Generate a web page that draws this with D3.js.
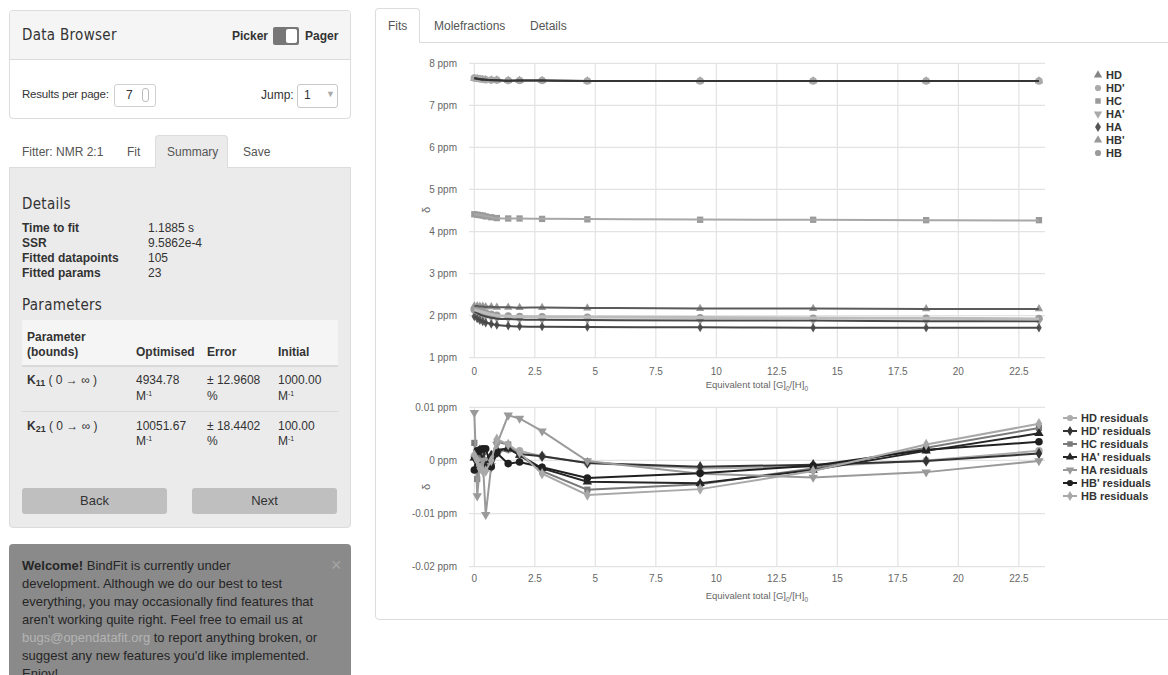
<!DOCTYPE html>
<html>
<head>
<meta charset="utf-8">
<script src="https://cdn.jsdelivr.net/npm/d3@7"></script>
<style>
  html, body { margin: 0; padding: 0; }
  body { width: 1168px; height: 675px; overflow: hidden; background: #fff; position: relative;
         font-family: "Liberation Sans", Arial, Helvetica, sans-serif; color: #333; }
  .abs { position: absolute; white-space: nowrap; }
  .cond { font-family: "DejaVu Sans Condensed", "Liberation Sans Narrow", "Roboto", sans-serif; letter-spacing: 0.3px; color: #333; }
  .panel { position: absolute; border: 1px solid #dcdcdc; border-radius: 4px; box-sizing: border-box; }
  .b { font-weight: bold; }
  .t12 { font-size: 12px; }
  .t13 { font-size: 13px; }
  sub.k { font-size: 9px; vertical-align: -2px; }
  sup.m { font-size: 7px; vertical-align: 4px; }
  .btn { position: absolute; background: #bfbfbf; border-radius: 3px; font-size: 13px; text-align: center; line-height: 26px; height: 26px; color: #333; }
  svg { position: absolute; left: 0; top: 0; }
</style>
</head>
<body>

<!-- Data browser box -->
<div class="panel" style="left:9px;top:10px;width:342px;height:109px;background:#fff;"></div>
<div class="abs" style="left:10px;top:11px;width:340px;height:48px;background:#f5f5f5;border-bottom:1px solid #dcdcdc;border-radius:4px 4px 0 0;"></div>
<div class="abs cond" style="left:22px;top:26px;font-size:15px;">Data Browser</div>
<div class="abs b t12" style="left:232px;top:29px;">Picker</div>
<div class="abs" style="left:273px;top:27px;width:26px;height:18px;background:#777;border-radius:2px;"></div>
<div class="abs" style="left:286px;top:29px;width:11px;height:14px;background:#fff;border-radius:2px;"></div>
<div class="abs b t12" style="left:305px;top:29px;">Pager</div>

<div class="abs" style="left:22px;top:88px;font-size:11.5px;letter-spacing:-0.2px;">Results per page:</div>
<div class="abs" style="left:114px;top:84px;width:40px;height:21px;border:1px solid #d0d0d0;border-radius:3px;"></div>
<div class="abs t12" style="left:126px;top:88px;">7</div>
<div class="abs" style="left:142px;top:88px;width:5px;height:12px;border:1px solid #bbb;border-radius:3px;"></div>
<div class="abs t12" style="left:261px;top:88px;">Jump:</div>
<div class="abs" style="left:297px;top:84px;width:39px;height:22px;border:1px solid #c8c8c8;border-radius:3px;"></div>
<div class="abs t12" style="left:304px;top:88px;">1</div>
<div class="abs" style="left:326px;top:89px;font-size:9px;color:#aaa;">&#9660;</div>

<!-- Fitter tabs -->
<div class="abs t12" style="left:22px;top:145px;color:#555;">Fitter: NMR 2:1</div>
<div class="abs t12" style="left:127px;top:145px;color:#555;">Fit</div>
<div class="abs" style="left:155px;top:135px;width:73px;height:34px;background:#ebebeb;border:1px solid #dcdcdc;border-bottom:none;border-radius:4px 4px 0 0;box-sizing:border-box;"></div>
<div class="abs t12" style="left:167px;top:145px;color:#555;">Summary</div>
<div class="abs t12" style="left:243px;top:145px;color:#555;">Save</div>

<!-- Summary panel -->
<div class="panel" style="left:9px;top:167px;width:342px;height:361px;background:#ebebeb;border-radius:0 0 4px 4px;"></div>
<div class="abs" style="left:156px;top:167px;width:71px;height:2px;background:#ebebeb;"></div>
<div class="abs cond" style="left:22px;top:195px;font-size:15px;">Details</div>
<div class="abs b t12" style="left:22px;top:221px;">Time to fit</div>
<div class="abs b t12" style="left:22px;top:236px;">SSR</div>
<div class="abs b t12" style="left:22px;top:251px;">Fitted datapoints</div>
<div class="abs b t12" style="left:22px;top:266px;">Fitted params</div>
<div class="abs t12" style="left:148px;top:221px;">1.1885 s</div>
<div class="abs t12" style="left:148px;top:236px;">9.5862e-4</div>
<div class="abs t12" style="left:148px;top:251px;">105</div>
<div class="abs t12" style="left:148px;top:266px;">23</div>
<div class="abs cond" style="left:22px;top:296px;font-size:15px;">Parameters</div>

<div class="abs" style="left:22px;top:320px;width:316px;height:45px;background:#f5f5f5;border-bottom:2px solid #dadada;"></div>
<div class="abs b t12" style="left:27px;top:330px;">Parameter</div>
<div class="abs b t12" style="left:27px;top:345px;">(bounds)</div>
<div class="abs b t12" style="left:136px;top:345px;">Optimised</div>
<div class="abs b t12" style="left:207px;top:345px;">Error</div>
<div class="abs b t12" style="left:278px;top:345px;">Initial</div>

<div class="abs t12" style="left:27px;top:373px;"><b>K<sub class="k">11</sub></b> ( 0 &#8594; &#8734; )</div>
<div class="abs t12" style="left:136px;top:373px;">4934.78</div>
<div class="abs t12" style="left:136px;top:389px;">M<sup class="m">-1</sup></div>
<div class="abs t12" style="left:207px;top:373px;">&#177; 12.9608</div>
<div class="abs t12" style="left:207px;top:389px;">%</div>
<div class="abs t12" style="left:278px;top:373px;">1000.00</div>
<div class="abs t12" style="left:278px;top:389px;">M<sup class="m">-1</sup></div>
<div class="abs" style="left:22px;top:411px;width:316px;height:1px;background:#d8d8d8;"></div>
<div class="abs t12" style="left:27px;top:419px;"><b>K<sub class="k">21</sub></b> ( 0 &#8594; &#8734; )</div>
<div class="abs t12" style="left:136px;top:419px;">10051.67</div>
<div class="abs t12" style="left:136px;top:434px;">M<sup class="m">-1</sup></div>
<div class="abs t12" style="left:207px;top:419px;">&#177; 18.4402</div>
<div class="abs t12" style="left:207px;top:434px;">%</div>
<div class="abs t12" style="left:278px;top:419px;">100.00</div>
<div class="abs t12" style="left:278px;top:434px;">M<sup class="m">-1</sup></div>

<div class="btn" style="left:22px;top:488px;width:145px;">Back</div>
<div class="btn" style="left:192px;top:488px;width:145px;">Next</div>

<!-- Welcome alert -->
<div class="abs" style="left:9px;top:544px;width:342px;height:150px;background:#8a8a8a;border-radius:4px;"></div>
<div class="abs" style="left:331px;top:555px;font-size:18px;color:#a6a6a6;">&#215;</div>
<div class="abs" style="left:22px;top:557px;font-size:13px;line-height:18px;color:#262626;">
<b>Welcome!</b> BindFit is currently under<br>
development. Although we do our best to test<br>
everything, you may occasionally find features that<br>
aren't working quite right. Feel free to email us at<br>
<span style="color:#b4b4b4;">bugs@opendatafit.org</span> to report anything broken, or<br>
suggest any new features you'd like implemented.<br>
Enjoy!
</div>

<!-- Right panel tabs -->
<div class="abs" style="left:375px;top:42px;width:800px;height:578px;border:1px solid #dcdcdc;border-radius:0 0 4px 4px;box-sizing:border-box;"></div>
<div class="abs" style="left:375px;top:8px;width:45px;height:35px;background:#fff;border:1px solid #dcdcdc;border-bottom:none;border-radius:4px 4px 0 0;box-sizing:border-box;"></div>
<div class="abs t12" style="left:388px;top:19px;color:#555;">Fits</div>
<div class="abs t12" style="left:434px;top:19px;color:#555;">Molefractions</div>
<div class="abs t12" style="left:530px;top:19px;color:#555;">Details</div>

<svg id="chart" width="1168" height="675"></svg>

<script>
// Titration points: equivalents of guest added
const xEquiv = [0, 0.12, 0.23, 0.35, 0.47, 0.70, 0.93, 1.40, 1.87, 2.80, 4.67, 9.33, 14.00, 18.67, 23.33];

// Observed chemical shifts (ppm)
const obsHD  = [7.64, 7.63, 7.62, 7.61, 7.61, 7.60, 7.60, 7.59, 7.59, 7.59, 7.58, 7.58, 7.58, 7.58, 7.58];
const obsHD2 = [7.65, 7.64, 7.63, 7.62, 7.61, 7.60, 7.60, 7.59, 7.59, 7.59, 7.58, 7.58, 7.58, 7.58, 7.58];
const obsHC  = [4.41, 4.40, 4.39, 4.38, 4.36, 4.34, 4.32, 4.31, 4.31, 4.30, 4.29, 4.28, 4.28, 4.27, 4.27];
const obsHA2 = [2.10, 2.06, 2.03, 2.00, 1.98, 1.95, 1.93, 1.92, 1.91, 1.90, 1.89, 1.88, 1.88, 1.87, 1.87];
const obsHA  = [1.98, 1.93, 1.89, 1.86, 1.83, 1.80, 1.78, 1.76, 1.75, 1.74, 1.73, 1.72, 1.71, 1.71, 1.71];
const obsHB2 = [2.23, 2.23, 2.22, 2.22, 2.21, 2.21, 2.20, 2.20, 2.19, 2.19, 2.18, 2.17, 2.17, 2.16, 2.16];
const obsHB  = [2.14, 2.12, 2.10, 2.08, 2.06, 2.03, 2.01, 1.99, 1.98, 1.97, 1.96, 1.95, 1.94, 1.94, 1.93];

// Fit residuals (ppm)
const resHD  = [0.0008, 0.0005, 0.0003, 0.0002, 0.0000, 0.0005, 0.0015, 0.0020, 0.0018, 0.0008, -0.0005, -0.0015, -0.0012, 0.0000, 0.0018];
const resHD2 = [0.0005, 0.0010, 0.0015, 0.0012, -0.0010, -0.0012, 0.0015, 0.0025, 0.0012, 0.0008, -0.0005, -0.0012, -0.0008, -0.0001, 0.0013];
const resHC  = [0.0033, -0.0035, 0.0010, -0.0010, -0.0015, 0.0005, 0.0035, 0.0030, 0.0010, -0.0020, -0.0055, -0.0045, -0.0015, 0.0024, 0.0061];
const resHA2 = [0.0005, 0.0015, 0.0020, 0.0000, -0.0010, 0.0010, 0.0020, 0.0022, 0.0010, -0.0015, -0.0040, -0.0043, -0.0018, 0.0018, 0.0051];
const resHA  = [0.0090, -0.0067, -0.0010, 0.0000, -0.0102, -0.0010, 0.0030, 0.0085, 0.0079, 0.0055, -0.0001, -0.0025, -0.0032, -0.0022, -0.0001];
const resHB2 = [-0.0018, 0.0018, 0.0020, 0.0022, 0.0022, -0.0012, 0.0014, -0.0006, -0.0003, -0.0013, -0.0033, -0.0024, -0.0010, 0.0020, 0.0035];
const resHB  = [0.0010, 0.0000, -0.0015, -0.0020, -0.0020, 0.0000, 0.0040, 0.0030, 0.0015, -0.0025, -0.0065, -0.0054, -0.0020, 0.0030, 0.0069];

const seriesNames = ["HD", "HD'", "HC", "HA'", "HA", "HB'", "HB"];
const observed  = [obsHD, obsHD2, obsHC, obsHA2, obsHA, obsHB2, obsHB];
const residuals = [resHD, resHD2, resHC, resHA2, resHA, resHB2, resHB];

// Axis ticks
const xTicks = [0, 2.5, 5, 7.5, 10, 12.5, 15, 17.5, 20, 22.5];
const fitTicks = [1, 2, 3, 4, 5, 6, 7, 8];
const resTicks = [-0.02, -0.01, 0, 0.01];
const resTickLabels = ["-0.02 ppm", "-0.01 ppm", "0 ppm", "0.01 ppm"];

// Styling per series
const markerShape  = ["triangle", "circle", "square", "triangleDown", "diamond", "triangle", "circle"];
const markerColor  = ["#858585", "#aaaaaa", "#9a9a9a", "#aaaaaa", "#555555", "#999999", "#9b9b9b"];
const markerSize   = { circle: 45, square: 40, triangle: 30, triangleDown: 30, diamond: 26 };
const fitLineColor = ["#353535", "#353535", "#a8a8a8", "#474747", "#474747", "#5a5a5a", "#bcbcbc"];
const fitLineWidth = [2, 2, 2, 2, 2, 2, 3];
const resColor     = ["#acacac", "#333333", "#7a7a7a", "#262626", "#9a9a9a", "#202020", "#a8a8a8"];
const resShape     = ["circle", "diamond", "square", "triangle", "triangleDown", "circle", "diamond"];

const svg = d3.select("#chart");
const font = "Liberation Sans, Arial, sans-serif";

function symbolPath(shape, size) {
  const t = { circle: d3.symbolCircle, square: d3.symbolSquare, diamond: d3.symbolDiamond,
              triangle: d3.symbolTriangle, triangleDown: d3.symbolTriangle }[shape];
  return d3.symbol().type(t).size(size)();
}
function drawSymbol(g, shape, size, x, y, color) {
  g.append("path").attr("d", symbolPath(shape, size))
    .attr("transform", `translate(${x},${y})` + (shape === "triangleDown" ? " rotate(180)" : ""))
    .attr("fill", color);
}

const x = d3.scaleLinear().domain([-0.22, 23.58]).range([469, 1045]);

function frame(y, ticks, labels, yTitle, xLabelY, xTitleY) {
  const g = svg.append("g");
  const [y0, y1] = y.range();
  // grid
  g.selectAll(null).data(xTicks).join("line")
    .attr("x1", d => x(d)).attr("x2", d => x(d)).attr("y1", y1).attr("y2", y0)
    .attr("stroke", "#e3e3e3").attr("stroke-width", 1.2);
  g.selectAll(null).data(ticks).join("line")
    .attr("x1", 469).attr("x2", 1045).attr("y1", d => y(d)).attr("y2", d => y(d))
    .attr("stroke", "#e3e3e3").attr("stroke-width", 1.2);
  // tick labels
  g.selectAll(null).data(ticks).join("text")
    .attr("x", 457).attr("y", d => y(d)).attr("dy", "0.35em").attr("text-anchor", "end")
    .attr("font-family", font).attr("font-size", 10).attr("fill", "#666").text((d, i) => labels[i]);
  g.selectAll(null).data(xTicks).join("text")
    .attr("x", d => x(d)).attr("y", xLabelY).attr("dy", "0.35em").attr("text-anchor", "middle")
    .attr("font-family", font).attr("font-size", 10).attr("fill", "#666").text(d => String(d));
  // axis titles
  const t = g.append("text").attr("x", x(12.5) - 20).attr("y", xTitleY).attr("dy", "0.35em")
    .attr("text-anchor", "middle").attr("font-family", font).attr("font-size", 9.5).attr("fill", "#666");
  t.append("tspan").text("Equivalent total [G]");
  t.append("tspan").attr("font-size", 6.5).attr("dy", 3).text("0");
  t.append("tspan").attr("dy", -3).text("/[H]");
  t.append("tspan").attr("font-size", 6.5).attr("dy", 3).text("0");
  g.append("text").attr("transform", `translate(426,${yTitle}) rotate(-90)`).attr("text-anchor", "middle")
    .attr("dy", "0.35em").attr("font-family", font).attr("font-size", 11).attr("fill", "#666").text("δ");
  return g;
}

// ---- Fit chart ----
const yFit = d3.scaleLinear().domain([1, 8]).range([357.7, 63.3]);
frame(yFit, fitTicks, fitTicks.map(d => d + " ppm"), 210, 371, 385);

const gFit = svg.append("g");
observed.forEach((obs, i) => {
  obs.forEach((v, j) => drawSymbol(gFit, markerShape[i], markerSize[markerShape[i]], x(xEquiv[j]), yFit(v), markerColor[i]));
});
const lineFit = d3.line().x(d => x(d[0])).y(d => yFit(d[1])).curve(d3.curveMonotoneX);
observed.forEach((obs, i) => {
  const fit = obs.map((v, j) => [xEquiv[j], v - residuals[i][j]]);
  gFit.append("path").attr("d", lineFit(fit)).attr("fill", "none")
    .attr("stroke", fitLineColor[i]).attr("stroke-width", fitLineWidth[i]);
});

// legend
const gLeg = svg.append("g");
seriesNames.forEach((n, i) => {
  const ly = 75 + i * 13;
  drawSymbol(gLeg, markerShape[i], 30, 1098, ly, markerColor[i]);
  gLeg.append("text").attr("x", 1106).attr("y", ly).attr("dy", "0.35em")
    .attr("font-family", font).attr("font-size", 11).attr("font-weight", "bold").attr("fill", "#333").text(n);
});

// ---- Residual chart ----
const yRes = d3.scaleLinear().domain([-0.02, 0.01]).range([566.7, 407.3]);
frame(yRes, resTicks, resTickLabels, 487, 578, 596);

const gRes = svg.append("g");
const lineRes = d3.line().x(d => x(d[0])).y(d => yRes(d[1]));
residuals.forEach((res, i) => {
  const pts = res.map((v, j) => [xEquiv[j], v]);
  gRes.append("path").attr("d", lineRes(pts)).attr("fill", "none")
    .attr("stroke", resColor[i]).attr("stroke-width", 2);
  pts.forEach(p => drawSymbol(gRes, resShape[i], resShape[i] === "circle" ? 45 : 38, x(p[0]), yRes(p[1]), resColor[i]));
});

const gLeg2 = svg.append("g");
seriesNames.forEach((n, i) => {
  const ly = 418 + i * 13;
  gLeg2.append("line").attr("x1", 1063).attr("x2", 1077).attr("y1", ly).attr("y2", ly)
    .attr("stroke", resColor[i]).attr("stroke-width", 2);
  drawSymbol(gLeg2, resShape[i], 30, 1070, ly, resColor[i]);
  gLeg2.append("text").attr("x", 1081).attr("y", ly).attr("dy", "0.35em")
    .attr("font-family", font).attr("font-size", 11).attr("font-weight", "bold").attr("fill", "#333").text(n + " residuals");
});
</script>
</body>
</html>
